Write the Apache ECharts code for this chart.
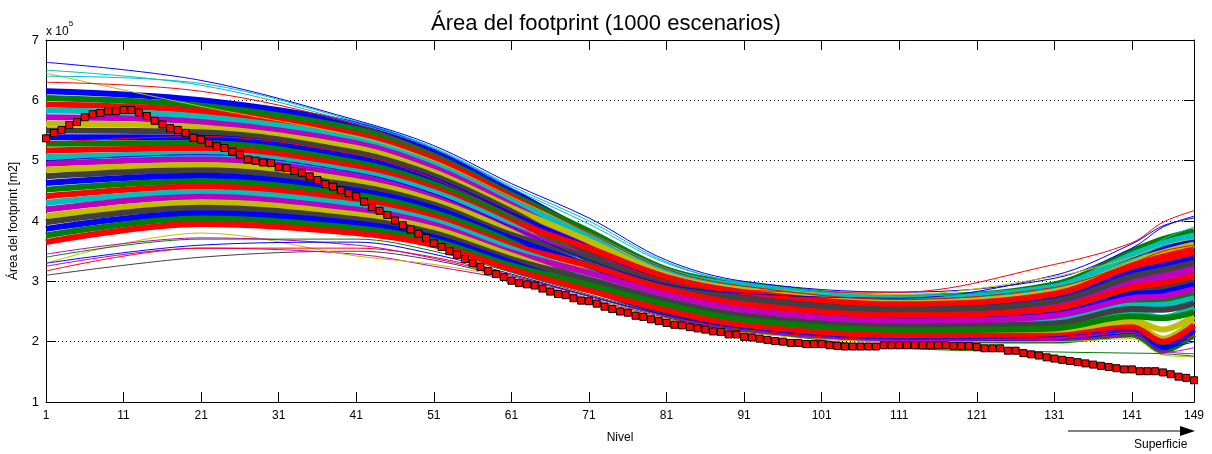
<!DOCTYPE html>
<html lang="es">
<head>
    <meta charset="UTF-8">
    <title>Área del footprint</title>
    <script src="https://cdn.jsdelivr.net/npm/echarts@6/dist/echarts.min.js"></script>
    <style>
        html, body { margin: 0; padding: 0; background: #fff; }
    </style>
</head>
<body>
<div id="main" style="width: 1212px;height:454px;"></div>
<script type="text/javascript">
    // niveles 1..149
    let niveles = [];
    for (let n = 1; n <= 149; n++) { niveles.push(String(n)); }

    // escenario base (marcadores rojos), en unidades de 1e5 m2
    let areaBase = [
        5.37, 5.46, 5.51, 5.59, 5.64, 5.72, 5.77, 5.79, 5.82, 5.82,
        5.84, 5.84, 5.80, 5.74, 5.66, 5.60, 5.54, 5.51, 5.46, 5.38,
        5.35, 5.29, 5.24, 5.21, 5.15, 5.10, 5.02, 5.00, 4.97, 4.96,
        4.89, 4.88, 4.83, 4.80, 4.74, 4.68, 4.61, 4.57, 4.51, 4.46,
        4.41, 4.32, 4.23, 4.17, 4.10, 4.01, 3.93, 3.86, 3.79, 3.72,
        3.63, 3.57, 3.50, 3.44, 3.37, 3.30, 3.24, 3.17, 3.12, 3.07,
        3.01, 2.97, 2.95, 2.93, 2.88, 2.83, 2.79, 2.77, 2.72, 2.68,
        2.67, 2.63, 2.58, 2.54, 2.50, 2.48, 2.43, 2.41, 2.37, 2.34,
        2.31, 2.28, 2.27, 2.24, 2.22, 2.20, 2.17, 2.16, 2.12, 2.12,
        2.08, 2.07, 2.05, 2.03, 2.01, 2.00, 1.98, 1.98, 1.96, 1.96,
        1.96, 1.94, 1.93, 1.92, 1.92, 1.92, 1.92, 1.92, 1.94, 1.94,
        1.94, 1.94, 1.94, 1.94, 1.94, 1.94, 1.94, 1.93, 1.93, 1.93,
        1.91, 1.89, 1.89, 1.89, 1.85, 1.85, 1.81, 1.79, 1.77, 1.74,
        1.72, 1.70, 1.68, 1.66, 1.64, 1.62, 1.60, 1.58, 1.56, 1.54,
        1.54, 1.51, 1.51, 1.51, 1.49, 1.46, 1.42, 1.40, 1.36
    ];

    // niveles donde se leyeron los escenarios
    let nivelesCtrl = [1, 21, 41, 51, 61, 71, 81, 91, 111, 131, 141, 145, 149];

    // escenarios del cuerpo de la banda (lectura aproximada)
    let escenariosBanda = [
        [6.15, 6.00, 5.60, 5.15, 4.50, 3.80, 3.13, 2.88, 2.68, 2.87, 3.38, 3.55, 3.68],
        [6.04, 5.91, 5.52, 5.08, 4.44, 3.83, 3.20, 2.95, 2.74, 2.95, 3.50, 3.70, 3.83],
        [5.93, 5.82, 5.44, 5.02, 4.39, 3.69, 3.04, 2.79, 2.59, 2.75, 3.20, 3.33, 3.46],
        [5.83, 5.73, 5.37, 4.95, 4.33, 3.76, 3.17, 2.92, 2.71, 2.91, 3.44, 3.63, 3.76],
        [5.72, 5.64, 5.29, 4.88, 4.27, 3.58, 2.94, 2.69, 2.50, 2.63, 3.02, 3.12, 3.24],
        [5.61, 5.55, 5.21, 4.81, 4.22, 3.67, 3.10, 2.85, 2.65, 2.83, 3.32, 3.48, 3.61],
        [5.50, 5.47, 5.13, 4.75, 4.16, 3.46, 2.84, 2.59, 2.41, 2.51, 2.84, 2.90, 3.01],
        [5.39, 5.38, 5.05, 4.68, 4.10, 3.55, 3.00, 2.75, 2.56, 2.71, 3.14, 3.26, 3.38],
        [5.28, 5.29, 4.97, 4.61, 4.05, 3.35, 2.74, 2.49, 2.31, 2.39, 2.66, 2.68, 2.79],
        [5.17, 5.20, 4.90, 4.54, 3.99, 3.55, 3.07, 2.82, 2.62, 2.79, 3.26, 3.41, 3.53],
        [5.06, 5.11, 4.82, 4.48, 3.93, 3.23, 2.65, 2.40, 2.22, 2.26, 2.48, 2.40, 2.57],
        [4.95, 5.02, 4.74, 4.41, 3.88, 3.39, 2.91, 2.66, 2.47, 2.59, 2.96, 3.04, 3.16],
        [4.85, 4.93, 4.66, 4.34, 3.82, 3.12, 2.55, 2.30, 2.13, 2.14, 2.30, 2.05, 2.35],
        [4.74, 4.84, 4.58, 4.27, 3.77, 3.39, 2.97, 2.72, 2.53, 2.67, 3.08, 3.19, 3.31],
        [4.63, 4.75, 4.50, 4.21, 3.71, 3.26, 2.81, 2.56, 2.37, 2.47, 2.78, 2.82, 2.94],
        [4.52, 4.66, 4.43, 4.14, 3.65, 2.98, 2.45, 2.20, 2.04, 2.02, 2.12, 1.85, 2.12],
        [4.41, 4.57, 4.35, 4.07, 3.60, 3.26, 2.87, 2.62, 2.44, 2.55, 2.90, 2.97, 3.09],
        [4.30, 4.48, 4.27, 4.00, 3.54, 3.12, 2.71, 2.46, 2.28, 2.35, 2.60, 2.61, 2.72],
        [4.19, 4.40, 4.19, 3.94, 3.48, 3.14, 2.78, 2.53, 2.34, 2.43, 2.72, 2.75, 2.87],
        [4.08, 4.31, 4.11, 3.87, 3.43, 2.98, 2.58, 2.33, 2.16, 2.18, 2.36, 2.20, 2.42],
        [3.98, 4.22, 4.03, 3.80, 3.37, 3.03, 2.68, 2.43, 2.25, 2.30, 2.54, 2.53, 2.64],
        [3.87, 4.13, 3.96, 3.73, 3.31, 2.87, 2.48, 2.23, 2.07, 2.06, 2.18, 1.90, 2.20],
        [3.76, 4.04, 3.88, 3.67, 3.26, 2.94, 2.61, 2.36, 2.19, 2.22, 2.42, 2.39, 2.49],
        [3.65, 3.95, 3.80, 3.60, 3.20, 2.85, 2.52, 2.27, 2.10, 2.10, 2.24, 2.00, 2.27]
    ];

    // escenarios extremos (lineas finas)
    let escenariosExtremos = [
        [6.63, 6.33, 5.67, 5.25, 4.62, 4.05, 3.35, 3.00, 2.82, 3.05, 3.55, 3.90, 4.08],
        [6.50, 6.25, 5.62, 5.20, 4.55, 3.95, 3.30, 2.98, 2.78, 2.95, 3.40, 3.70, 3.90],
        [5.30, 5.40, 5.10, 4.70, 4.10, 3.50, 3.00, 2.85, 2.82, 3.28, 3.64, 3.98, 4.17],
        [5.00, 5.10, 4.80, 4.45, 3.90, 3.35, 2.95, 2.80, 2.72, 3.10, 3.62, 3.92, 4.05],
        [6.45, 5.90, 5.40, 5.00, 4.40, 3.80, 3.15, 2.90, 2.78, 3.08, 3.40, 3.60, 3.70],
        [6.30, 6.15, 5.60, 5.10, 4.45, 3.80, 3.20, 2.92, 2.70, 2.90, 3.30, 3.50, 3.60],
        [6.40, 6.28, 5.65, 5.22, 4.58, 4.00, 3.32, 2.97, 2.76, 2.92, 3.35, 3.60, 3.75],
        [3.10, 3.40, 3.50, 3.35, 3.05, 2.72, 2.40, 2.18, 2.02, 2.00, 2.10, 1.95, 2.05],
        [3.25, 3.55, 3.45, 3.25, 3.02, 2.70, 2.38, 2.16, 2.00, 2.02, 2.10, 1.85, 1.80],
        [3.30, 3.80, 3.42, 3.28, 3.05, 2.72, 2.38, 2.15, 2.00, 2.00, 2.05, 1.78, 1.75],
        [3.17, 3.55, 3.55, 3.40, 3.10, 2.75, 2.42, 2.20, 2.03, 2.05, 2.15, 2.00, 2.10],
        [3.40, 3.70, 3.70, 3.50, 3.15, 2.78, 2.45, 2.20, 1.90, 1.83, 1.81, 1.80, 1.76],
        [3.45, 3.72, 3.60, 3.38, 3.08, 2.75, 2.42, 2.18, 2.02, 2.05, 2.15, 1.82, 1.90],
        [3.30, 3.60, 3.65, 3.45, 3.12, 2.76, 2.44, 2.22, 2.05, 2.08, 2.20, 1.90, 2.00]
    ];
    let coloresExtremos = ['#0000ff', '#00bfbf', '#ff0000', '#0000ff', '#bfbf00', '#ff0000', '#00bfbf',
        '#404040', '#bf00bf', '#bfbf00', '#ff0000', '#008000', '#bf00bf', '#0000ff'];

    let yTicks = [1, 2, 3, 4, 5, 6, 7];

    // colores por defecto de matlab
    let paleta = ['#0000ff', '#008000', '#ff0000', '#00bfbf', '#bf00bf', '#bfbf00', '#404040'];

    let fuente = "'Liberation Sans', Arial, sans-serif";
    let marcaNivel = function (idx) { return idx % 10 === 0 || idx === niveles.length - 1; };

    function serieEscenario(fila, color, ancho) {
        return {
            type: 'line',
            data: nivelesCtrl.map(function (n, k) { return [n - 1, fila[k]]; }),
            smooth: 0.35,
            showSymbol: false,
            silent: true,
            lineStyle: { color: color, width: ancho },
            z: 2
        };
    }

    let series = [];
    escenariosBanda.forEach(function (fila, i) {
        series.push(serieEscenario(fila, paleta[i % paleta.length], 6));
    });
    escenariosExtremos.forEach(function (fila, i) {
        series.push(serieEscenario(fila, coloresExtremos[i], 1));
    });
    series.push({
        name: 'Base',
        type: 'line',
        data: areaBase,
        symbol: 'rect',
        symbolSize: 7,
        showAllSymbol: true,
        lineStyle: { color: '#ff0000', width: 1 },
        itemStyle: { color: '#ff0000', borderColor: '#000', borderWidth: 1 },
        z: 5
    });

    let myChart = echarts.init(document.getElementById("main"));
    let option = {
        animation: false,
        backgroundColor: '#fff',
        textStyle: { fontFamily: fuente },
        title: {
            text: 'Área del footprint (1000 escenarios)',
            left: 'center',
            top: 8,
            textStyle: { fontSize: 22, fontWeight: 'normal', color: '#000', fontFamily: fuente }
        },
        grid: { left: 45, right: 18, top: 40, bottom: 52 },
        xAxis: [{
            type: 'category',
            data: niveles,
            boundaryGap: false,
            name: 'Nivel',
            nameLocation: 'middle',
            nameGap: 30,
            nameTextStyle: { fontSize: 12, color: '#000' },
            axisLine: { lineStyle: { color: '#000', width: 1 } },
            axisTick: { inside: true, length: 10, interval: marcaNivel, lineStyle: { color: '#000' } },
            axisLabel: { interval: marcaNivel, color: '#000', fontSize: 12, margin: 8 },
            splitLine: { show: false }
        }, {
            type: 'category',
            data: niveles,
            position: 'top',
            boundaryGap: false,
            axisLine: { lineStyle: { color: '#000', width: 1 } },
            axisTick: { inside: true, length: 10, interval: marcaNivel, lineStyle: { color: '#000' } },
            axisLabel: { show: false },
            splitLine: { show: false }
        }],
        yAxis: [{
            type: 'value',
            min: yTicks[0],
            max: yTicks[yTicks.length - 1],
            interval: 1,
            name: 'Área del footprint [m2]',
            nameLocation: 'middle',
            nameGap: 26,
            nameTextStyle: { fontSize: 12, color: '#000' },
            axisLine: { show: true, lineStyle: { color: '#000', width: 1 } },
            axisTick: { show: true, inside: true, length: 10, lineStyle: { color: '#000' } },
            axisLabel: { color: '#000', fontSize: 13, margin: 7 },
            splitLine: { show: true, lineStyle: { color: '#000', type: [1, 3], width: 1 } }
        }, {
            type: 'value',
            position: 'right',
            min: yTicks[0],
            max: yTicks[yTicks.length - 1],
            interval: 1,
            axisLine: { show: true, lineStyle: { color: '#000', width: 1 } },
            axisTick: { show: true, inside: true, length: 10, lineStyle: { color: '#000' } },
            axisLabel: { show: false },
            splitLine: { show: false }
        }],
        graphic: [{
            type: 'text',
            left: 46,
            top: 20,
            style: {
                text: '{a|x 10}{b|5}',
                rich: {
                    a: { fontSize: 12, fontFamily: fuente, fill: '#000', padding: [6, 0, 0, 0] },
                    b: { fontSize: 8, fontFamily: fuente, fill: '#000', verticalAlign: 'top' }
                }
            }
        }, {
            type: 'line',
            shape: { x1: 1068, y1: 431, x2: 1188, y2: 431 },
            style: { stroke: '#000', lineWidth: 1 }
        }, {
            type: 'polygon',
            shape: { points: [[1180, 426], [1195, 431], [1180, 436]] },
            style: { fill: '#000' }
        }, {
            type: 'text',
            left: 1134,
            top: 439,
            style: { text: 'Superficie', fontSize: 12, fontFamily: fuente, fill: '#000' }
        }],
        series: series
    };
    myChart.setOption(option);
</script>
</body>
</html>
